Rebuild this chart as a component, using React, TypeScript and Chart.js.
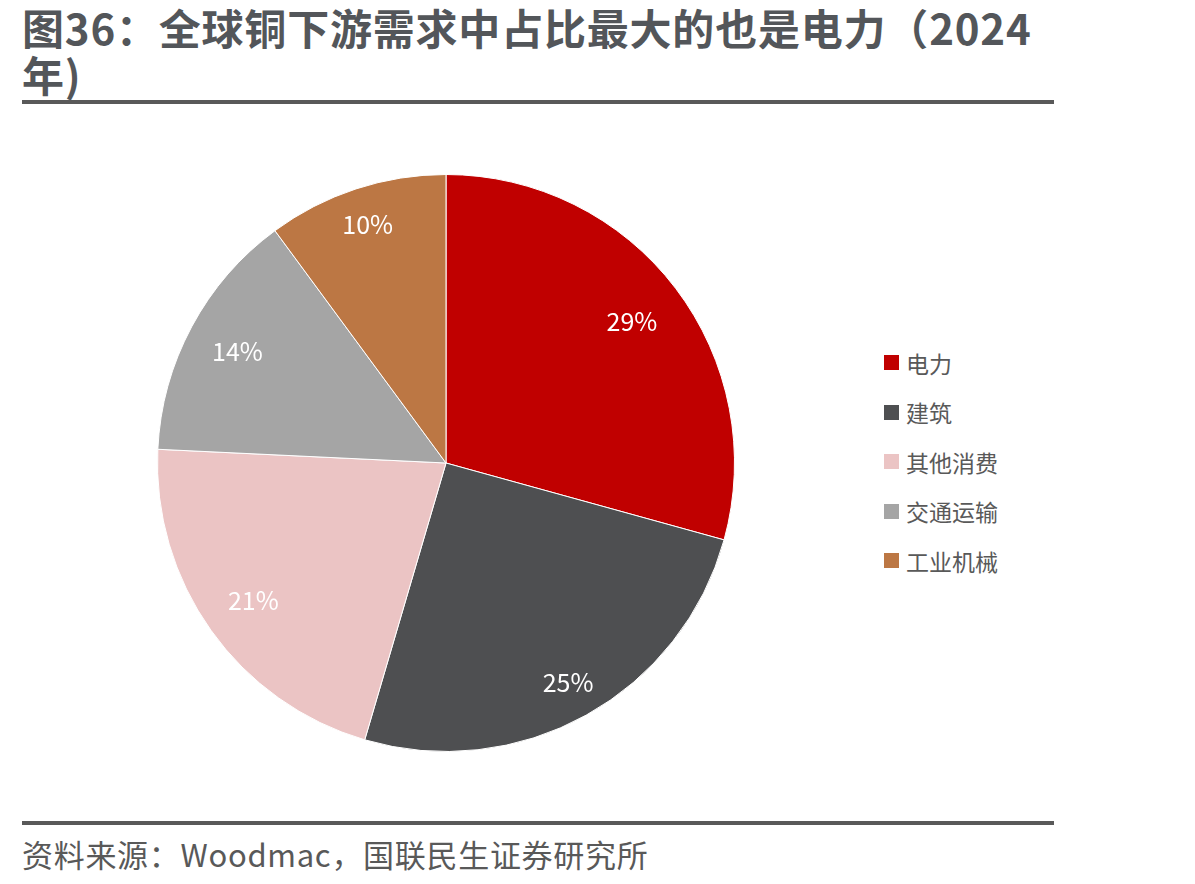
import React, { useEffect, useRef } from "react";
import { Chart, registerables } from "chart.js";

Chart.register(...registerables);

const categories = ["电力", "建筑", "其他消费", "交通运输", "工业机械"];
const shares = [29, 25, 21, 14, 10];
const colors = ["#C00000", "#4E4F51", "#EBC4C4", "#A5A5A5", "#BC7744"];
const valueLabels = ["29%", "25%", "21%", "14%", "10%"];

const titleLine1 = "图36：全球铜下游需求中占比最大的也是电力（2024";
const titleLine2 = "年)";
const sourceText = "资料来源：Woodmac，国联民生证券研究所";

const FONT = '"Noto Sans CJK SC", "Noto Sans", sans-serif';
// label distance from centre as a fraction of the radius (best-fit style placement)
const LABEL_RADIUS = [0.81, 0.87, 0.82, 0.82, 0.87];

const labelPlugin = {
  id: "sliceLabels",
  afterDatasetsDraw(chart: any) {
    const ctx = chart.ctx;
    const meta = chart.getDatasetMeta(0);
    ctx.save();
    ctx.fillStyle = "#ffffff";
    ctx.font = `25px ${FONT}`;
    ctx.textAlign = "center";
    ctx.textBaseline = "middle";
    meta.data.forEach((arc: any, i: number) => {
      const { x, y, startAngle, endAngle, outerRadius } = arc.getProps(
        ["x", "y", "startAngle", "endAngle", "outerRadius"],
        true
      );
      const mid = (startAngle + endAngle) / 2;
      const r = outerRadius * LABEL_RADIUS[i];
      ctx.fillText(valueLabels[i], x + Math.cos(mid) * r, y + Math.sin(mid) * r);
    });
    ctx.restore();
  },
};

export default function App() {
  const canvasRef = useRef<HTMLCanvasElement | null>(null);

  useEffect(() => {
    if (!canvasRef.current) return;
    const chart = new Chart(canvasRef.current, {
      type: "pie",
      data: {
        labels: categories,
        datasets: [
          {
            data: shares,
            backgroundColor: colors,
            borderColor: "#ffffff",
            borderWidth: 1,
          },
        ],
      },
      options: {
        animation: false,
        responsive: false,
        maintainAspectRatio: false,
        layout: { padding: 0 },
        plugins: {
          legend: { display: false },
          tooltip: { enabled: false },
        },
      },
      plugins: [labelPlugin],
    });
    return () => chart.destroy();
  }, []);

  return (
    <div
      style={{
        position: "absolute",
        left: 0,
        top: 0,
        width: 1195,
        height: 884,
        background: "#ffffff",
        fontFamily: FONT,
        overflow: "hidden",
      }}
    >
      <div
        style={{
          position: "absolute",
          left: 22,
          top: 3,
          fontSize: 42,
          fontWeight: 700,
          lineHeight: "47px",
          letterSpacing: "0.8px",
          color: "#53565A",
          whiteSpace: "nowrap",
        }}
      >
        {titleLine1}
        <br />
        {titleLine2}
      </div>
      <div
        style={{
          position: "absolute",
          left: 22,
          top: 100,
          width: 1032,
          height: 4,
          background: "#595959",
        }}
      />
      <canvas
        ref={canvasRef}
        width={578}
        height={578}
        style={{ position: "absolute", left: 157, top: 174, width: 578, height: 578 }}
      />
      <div style={{ position: "absolute", left: 884, top: 338 }}>
        {categories.map((c, i) => (
          <div
            key={c}
            style={{
              display: "flex",
              alignItems: "center",
              height: 49.5,
              fontSize: 23,
              color: "#595959",
            }}
          >
            <span
              style={{
                display: "inline-block",
                width: 15,
                height: 15,
                background: colors[i],
                marginRight: 7,
              }}
            />
            <span>{c}</span>
          </div>
        ))}
      </div>
      <div
        style={{
          position: "absolute",
          left: 22,
          top: 821,
          width: 1032,
          height: 4,
          background: "#595959",
        }}
      />
      <div
        style={{
          position: "absolute",
          left: 22,
          top: 834,
          fontSize: 31,
          lineHeight: "40px",
          letterSpacing: "0.7px",
          color: "#595959",
          whiteSpace: "nowrap",
        }}
      >
        {sourceText}
      </div>
    </div>
  );
}
